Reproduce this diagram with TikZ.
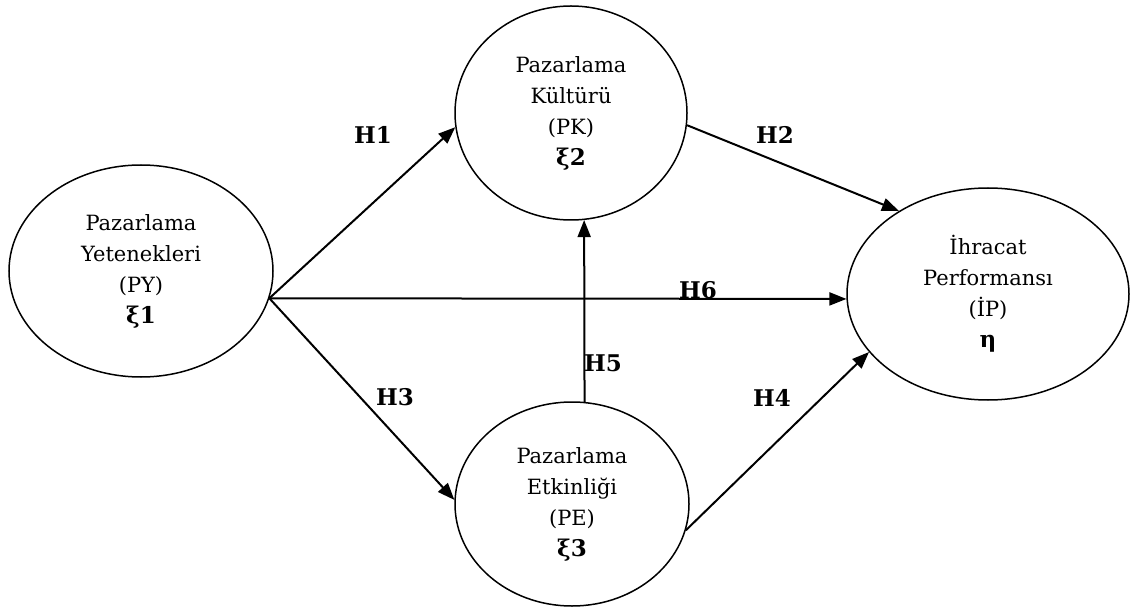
\documentclass[tikz,border=0pt]{standalone}
\usepackage{fontspec}
\setmainfont{DejaVu Serif}
\usetikzlibrary{shapes.geometric,arrows.meta}
\newcommand{\symb}[1]{{\fontsize{23}{31}\selectfont\bfseries #1}}
\begin{document}
\begin{tikzpicture}[x=1pt,y=-1pt,
  latent/.style={draw=black, line width=1.5pt, ellipse, inner sep=0pt, align=center,
    font=\fontsize{21}{31}\selectfont},
  conn/.style={line width=2pt, -{Triangle[length=17pt,width=13pt]}},
  hyp/.style={font=\fontsize{23}{26}\selectfont\bfseries, inner sep=0pt}]
\useasboundingbox (0,0) rectangle (1132,612);
\node[latent, minimum width=264pt, minimum height=212pt] (PY) at (141,271)
  {Pazarlama\\Yetenekleri\\(PY)\\\symb{ξ1}};
\node[latent, minimum width=232pt, minimum height=214pt] (PK) at (571,113)
  {Pazarlama\\Kültürü\\(PK)\\\symb{ξ2}};
\node[latent, minimum width=234pt, minimum height=204pt] (PE) at (572,504)
  {Pazarlama\\Etkinliği\\(PE)\\\symb{ξ3}};
\node[latent, minimum width=282pt, minimum height=212pt] (IP) at (988,294)
  {İhracat\\Performansı\\(İP)\\\symb{η}};
\draw[conn] (PY.-12) -- (PK.187);
\draw[conn] (PY.-12) -- (PE.178);
\draw[conn] (PY.-12) -- (IP.182.5);
\draw[conn] (PK.-6) -- (IP.137);
\draw[conn] (PE.-13) -- (IP.206);
\draw[conn] (PE.83) -- (PK.-83);
\node[hyp] (h1) at (373,135) {H1};
\node[hyp] (h2) at (775,135) {H2};
\node[hyp] (h3) at (395,397) {H3};
\node[hyp] (h4) at (772,398) {H4};
\node[hyp] (h5) at (603,363) {H5};
\node[hyp] (h6) at (698,290) {H6};
\end{tikzpicture}
\end{document}
